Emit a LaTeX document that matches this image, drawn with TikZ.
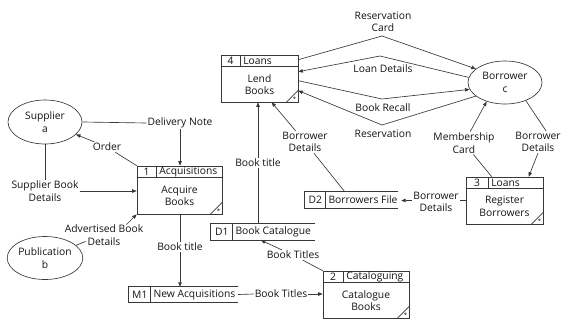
\documentclass[tikz,border=0pt]{standalone}
\usepackage{fontspec}
\setmainfont{Open Sans}
\usetikzlibrary{arrows.meta,calc,shapes.geometric,fit}

\newcommand\procbox[9]{%
  \node[procbody, minimum width=#4pt, minimum height=#5pt] (#1) at (#2,#3) {};
  \draw[ln] ($(#1.north west)+(0,12)$) -- ($(#1.north east)+(0,12)$);
  \draw[ln] ($(#1.north west)+(#6,0)$) -- ($(#1.north west)+(#6,12)$);
  \node[lbl] at ($(#1.north west)+(#6/2,6)$) {#7};
  \node[lbl, anchor=west] at ($(#1.north west)+(#6+1.5,6)$) {#8};
  \node[lbl] at ($(#1.center)+(0,6)$) {#9};
  \draw[ln] ($(#1.south east)+(-12,0)$) -- ($(#1.south east)+(0,-12)$);
  \node[star] at ($(#1.south east)+(-3.8,-3.2)$) {*};
}
\newcommand\storebox[8]{%
  \path (#2,#3) coordinate (#1nw) (#4,#5) coordinate (#1se);
  \node[storearea, fit=(#1nw)(#1se)] (#1) {};
  \draw[ln] (#1.north east) -- (#1.north west) -- (#1.south west) -- (#1.south east);
  \draw[ln] ($(#1.north west)+(#6,0)$) -- ($(#1.south west)+(#6,0)$);
  \node[lbl] at ($(#1.west)+(#6/2,0)$) {#7};
  \node[lbl, anchor=west] at ($(#1.west)+(#6+1.5,0)$) {#8};
}

\begin{document}
\begin{tikzpicture}[x=1pt,y=-1pt,
  every node/.style={font=\fontsize{10.3}{12.5}\selectfont, text=black!92},
  lbl/.style={inner sep=1pt, align=center},
  star/.style={inner sep=0pt, font=\fontsize{6}{6}\selectfont},
  ln/.style={draw=black!78, line width=0.65pt},
  arr/.style={ln, -{Triangle[length=4.5pt,width=3.5pt]}},
  ent/.style={ellipse, draw=black!78, line width=0.65pt, minimum width=74pt, minimum height=44pt, inner sep=0pt, align=center},
  procbody/.style={rectangle, draw=black!78, line width=0.65pt, inner sep=0pt},
  storearea/.style={rectangle, inner sep=0pt},
]
\fill[white] (0,0) rectangle (563,322);
\useasboundingbox (0,0) rectangle (563,322);

% processes
\procbox{p4}{259.5}{78.5}{77}{47}{20}{4}{Loans}{Lend\\Books}
\procbox{p1}{179.5}{190}{85}{48}{20}{1}{Acquisitions}{Acquire\\Books}
\procbox{p3}{504.5}{200.5}{77}{47}{23}{3}{Loans}{Register\\Borrowers}
\procbox{p2}{366}{294.5}{86}{47}{21}{2}{Cataloguing}{Catalogue\\Books}

% stores
\storebox{m1}{129}{287}{238}{302}{22}{M1}{New Acquisitions}
\storebox{d1}{211}{224}{315}{240}{22}{D1}{Book Catalogue}
\storebox{d2}{305}{192}{398}{208}{21}{D2}{Borrowers File}

% external entities
\node[ent] (sup) at (45,122) {Supplier\\a};
\node[ent, minimum height=43pt] (bor) at (505,82.5) {Borrower\\c};
\node[ent, minimum height=43pt] (pub) at (45,258) {Publication\\b};

% flow labels
\node[lbl] (dn) at (180,123) {Delivery Note};
\node[lbl] (ord) at (107,147) {Order};
\node[lbl] (sbd) at (45,191) {Supplier Book\\Details};
\node[lbl] (abd) at (104,235) {Advertised Book\\Details};
\node[lbl] (bt1) at (180,247) {Book title};
\node[lbl] (bt2) at (258,163) {Book title};
\node[lbl] (btc) at (293,255) {Book Titles};
\node[lbl] (btn) at (281,294) {Book Titles};
\node[lbl] (rc) at (383,22) {Reservation\\Card};
\node[lbl] (ld) at (383,69) {Loan Details};
\node[lbl] (br) at (383,108) {Book Recall};
\node[lbl] (res) at (383,134) {Reservation};
\node[lbl] (mc) at (464,143) {Membership\\Card};
\node[lbl] (bdr) at (538,142) {Borrower\\Details};
\node[lbl] (bdl) at (305,142) {Borrower\\Details};
\node[lbl] (bdd) at (436,202) {Borrower\\Details};

\coordinate (k1) at (382,36);
\coordinate (k2) at (380,56);
\coordinate (k3) at (382,99);
\coordinate (k4) at (382,125);

% connectors
\draw[ln] (sup.east) -- (dn.west);
\draw[arr] (dn.south) -- (dn.south |- p1.north);
\draw[ln] (p1.north west) -- (ord);
\draw[arr] (ord) -- (sup);
\draw[ln] (sup.south) -- (sbd.north);
\draw[arr] (sbd.east) -- (sbd.east -| p1.west);
\draw[ln] (pub) -- ($(abd.south west)+(22,-5)$);
\draw[arr] ($(abd.north east)+(-18,1)$) -- (p1.south west);
\draw[ln] (bt1.north |- p1.south) -- (bt1.north);
\draw[arr] (bt1.south) -- (bt1.south |- m1.north);
\draw[ln] (m1.east) -- (btn.west);
\draw[arr] (btn.east) -- (btn.east -| p2.west);
\draw[ln] (p2.north west) -- (btc);
\draw[arr] (btc) -- ($(d1.south west)+(50,0)$);
\draw[ln] (bt2 |- d1.north) -- (bt2);
\draw[arr] (bt2) -- (bt2 |- p4.south);
\draw[ln] ($(d2.north west)+(40,0)$) -- (bdl);
\draw[arr] (bdl) -- ($(p4.south west)+(51,0)$);
\draw[ln] (p3.west) -- (bdd.east |- p3.west);
\draw[arr] (bdd.west |- p3.west) -- ($(d2.east |- p3.west)+(3,0)$);
\draw[ln] ($(p3.north west)+(26,0)$) -- (mc);
\draw[arr] (mc) -- (bor.226);
\draw[ln] (bor.-41) -- ($(bdr.north)+(8,0)$);
\draw[arr] (bdr.south) -- ($(p3.north west)+(63,0)$);
\draw[arr] ($(p4.north east)+(0,5)$) -- (k1) -- (bor.155);
\draw[arr] (bor.172) -- (k2) -- ($(p4.north east)+(0,17)$);
\draw[arr] ($(p4.north east)+(0,26)$) -- (k3) -- (bor.191);
\draw[arr] (bor.205) -- (k4) -- ($(p4.north east)+(0,36)$);
\end{tikzpicture}
\end{document}
